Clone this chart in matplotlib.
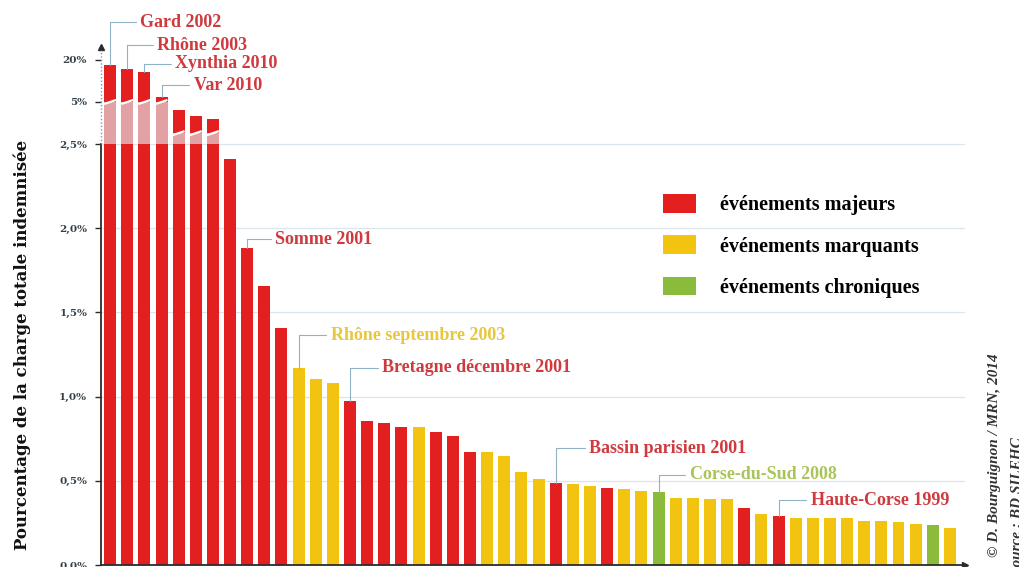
import numpy as np
import matplotlib
matplotlib.use("Agg")
import matplotlib.pyplot as plt
from matplotlib.patches import Patch
from matplotlib.ticker import NullLocator

# part de la charge totale indemnisée (%) pour chaque événement, triés
valeurs = [18.1, 16.7, 15.7, 6.7, 4.52, 4.16, 3.98, 2.41, 1.88, 1.66,
           1.41, 1.17, 1.105, 1.08, 0.975, 0.855, 0.843, 0.82, 0.82, 0.79,
           0.766, 0.671, 0.671, 0.647, 0.552, 0.511, 0.485, 0.483, 0.47, 0.457,
           0.452, 0.442, 0.436, 0.398, 0.398, 0.394, 0.39, 0.338, 0.303, 0.291,
           0.281, 0.281, 0.281, 0.277, 0.264, 0.264, 0.253, 0.244, 0.236, 0.219]

# M = majeur, Q = marquant, C = chronique
categories = list("MMMMMMMMMMMQQQMMMMQMMMQQQQMQQMQQCQQQQMQMQQQQQQQQCQ")

noms = {0: "Gard 2002", 1: "Rhône 2003", 2: "Xynthia 2010", 3: "Var 2010",
        8: "Somme 2001", 11: "Rhône septembre 2003",
        14: "Bretagne décembre 2001", 26: "Bassin parisien 2001",
        32: "Corse-du-Sud 2008", 39: "Haute-Corse 1999"}

legende = ["événements majeurs", "événements marquants", "événements chroniques"]

yticks = [0, 0.5, 1, 1.5, 2, 2.5, 5, 20]
ylabels = ["0,0%", "0,5%", "1,0%", "1,5%", "2,0%", "2,5%", "5%", "20%"]

# position des étiquettes (décalage en pixels depuis le haut de la barre)
decalages = {0: (30, 43), 1: (30, 24), 2: (31, 8), 3: (32, 12), 8: (28, 9),
             11: (32, 33), 14: (32, 33), 26: (33, 35), 32: (31, 17), 39: (32, 16)}

couleurs = {"M": "#e3201f", "Q": "#f2c40f", "C": "#8bbb3a"}
couleurs_txt = {"M": "#cf3a3f", "Q": "#e6c73d", "C": "#a9c45a"}
pale = "#e2a2a5"
serif = "Liberation Serif"


# échelle brisée : linéaire jusqu'à 2,5 %, puis compressée
def fwd(v):
    v = np.asarray(v, dtype=float)
    return np.where(v <= 2.5, v,
                    np.where(v <= 5, 2.5 + (v - 2.5) * 0.1,
                             2.75 + (v - 5) * (0.25 / 15)))


def inv(u):
    u = np.asarray(u, dtype=float)
    return np.where(u <= 2.5, u,
                    np.where(u <= 2.75, 2.5 + (u - 2.5) / 0.1,
                             5 + (u - 2.75) * 60))


fig = plt.figure(figsize=(10.2, 5.67), dpi=100)
ax = fig.add_axes([101 / 1020, 2 / 567, 864 / 1020, 518 / 567])
ax.set_yscale("function", functions=(fwd, inv))
ax.set_xlim(-0.53, 49.88)
ax.set_ylim(0, 24.6)

for g in [0.5, 1, 1.5, 2, 2.5]:
    ax.axhline(g, color="#dbe5ec", lw=0.9, zorder=0)

w = 0.7
for i, v in enumerate(valeurs):
    c = couleurs[categories[i]]
    ax.bar(i, min(v, 2.5), width=w, color=c, zorder=2)
    if v > 2.5:
        brk = 5.0 if v > 5 else 3.15
        ax.bar(i, brk - 2.5, bottom=2.5, width=w, color=pale, zorder=2)
        ax.bar(i, v - brk, bottom=brk, width=w, color=c, zorder=2)
        u = float(fwd(brk))
        ax.plot([i - w / 2, i + w / 2], [inv(u - 0.012), inv(u + 0.012)],
                color="white", lw=1.6, zorder=3, solid_capstyle="butt")

for i, txt in noms.items():
    cat = categories[i]
    ax.annotate(txt, xy=(i, valeurs[i]), xytext=decalages[i],
                textcoords="offset pixels", ha="left", va="center",
                fontsize=13, fontweight="bold", family=serif,
                color=couleurs_txt[cat], annotation_clip=False,
                arrowprops=dict(arrowstyle="-", color="#8fb2c6", lw=0.8,
                                connectionstyle="angle,angleA=0,angleB=90,rad=0",
                                relpos=(0, 0.5), shrinkA=1, shrinkB=0))

# axes
for s in ["top", "right"]:
    ax.spines[s].set_visible(False)
ax.spines["left"].set_bounds(0, 2.5)
ax.spines["left"].set_color("#2b2b2b")
ax.spines["left"].set_linewidth(1.3)
ax.spines["bottom"].set_color("#2b2b2b")
ax.spines["bottom"].set_linewidth(1.3)
ax.plot([-0.53, -0.53], [2.5, 23.5], color="#6f9fc0", lw=1.0, ls=(0, (1, 1.5)),
        clip_on=False, zorder=3)
ax.plot([0], [1], marker="^", color="#2b2b2b", markersize=5,
        transform=ax.transAxes, clip_on=False)
ax.plot([1], [0], marker=">", color="#2b2b2b", markersize=5,
        transform=ax.transAxes, clip_on=False)

ax.set_xticks([])
ax.set_yticks(yticks)
ax.set_yticklabels(ylabels)
ax.yaxis.set_minor_locator(NullLocator())
ax.tick_params(axis="y", length=4, width=1, color="#2b2b2b", pad=6)
for lab in ax.get_yticklabels():
    lab.set_family("DejaVu Serif")
    lab.set_fontweight("bold")
    lab.set_fontsize(7.5)
    lab.set_color("#33404a")

handles = [Patch(facecolor=couleurs[k], label=l) for k, l in zip("MQC", legende)]
ax.legend(handles=handles, loc="upper left", bbox_to_anchor=(663 / 1020, 1 - 194 / 567),
          bbox_transform=fig.transFigure, frameon=False, borderpad=0,
          borderaxespad=0, handlelength=1.65, handleheight=1.05,
          handletextpad=1.2, labelspacing=1.0,
          prop={"family": serif, "weight": "bold", "size": 14.5})

fig.text(22 / 1020, 1 - 345 / 567, "Pourcentage de la charge totale indemnisée",
         rotation=90, ha="center", va="center", fontsize=12, fontweight="bold",
         family="DejaVu Serif", color="#111111")
fig.text(995 / 1020, 10 / 567, "© D. Bourguignon / MRN, 2014", rotation=90,
         ha="center", va="bottom", fontsize=11, fontweight="bold", style="italic",
         family=serif, color="#333333")
fig.text(1018 / 1020, -8 / 567, "Source : BD SILEHC", rotation=90,
         ha="center", va="bottom", fontsize=11, fontweight="bold", style="italic",
         family=serif, color="#333333")

fig.savefig("out.png", dpi=100)
